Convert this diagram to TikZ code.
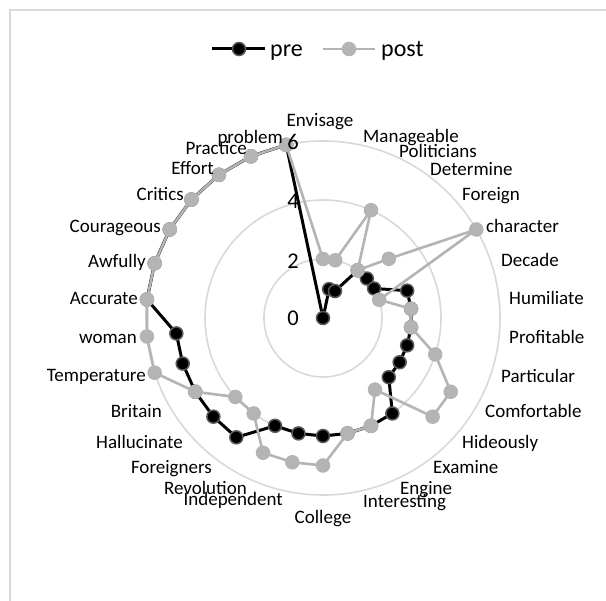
\documentclass[tikz,border=0pt]{standalone}
\usepackage{fontspec}
\setmainfont{Carlito}
\definecolor{preedge}{RGB}{89,89,89}
\definecolor{postgray}{RGB}{180,180,180}
\definecolor{gridgray}{RGB}{217,217,217}
\begin{document}
\begin{tikzpicture}[x=1pt,y=-1pt,
  catlab/.style={font=\fontsize{19}{21}\selectfont, inner sep=0pt},
  axlab/.style={font=\fontsize{22.5}{24}\selectfont, inner sep=0pt, anchor=base},
  leglab/.style={font=\fontsize{24}{26}\selectfont, inner sep=0pt, anchor=base west},
  premark/.style={circle, fill=black, draw=preedge, line width=1.5pt, minimum size=13pt, inner sep=0pt},
  postmark/.style={circle, fill=postgray, draw=postgray, line width=1pt, minimum size=13.5pt, inner sep=0pt},
  preline/.style={black, line width=3pt, line join=round},
  postline/.style={postgray, line width=2.6pt, line join=round},
  gridline/.style={gridgray, line width=1.6pt}
  ]
\useasboundingbox (0,0) rectangle (606,601);
\fill[white] (0,0) rectangle (606,601);
\coordinate (frameBL) at (10,601);
\coordinate (frameTL) at (10,10);
\coordinate (frameTR) at (606,10);
\draw[gridline, line width=2pt] (frameBL) -- (frameTL) -- (frameTR);
\coordinate (C) at (323,318);
\foreach \r in {2,4,6} \draw[gridline] (C) circle[radius=\r*29.5pt];
% data points
\foreach \v [count=\i from 0] in {0,1,1,2,2,2,3,3,3,3,3,3,4,4,4,4,4,4,5,5,5,5,5,6,6,6,6,6,6,6}
  \coordinate (pre\i) at ({323+\v*29.5*sin(\i*12)}, {318-\v*29.5*cos(\i*12)});
\foreach \v [count=\i from 0] in {2,2,4,2,3,6,2,3,3,4,5,5,3,4,4,5,5,5,4,4,5,6,6,6,6,6,6,6,6,6}
  \coordinate (post\i) at ({323+\v*29.5*sin(\i*12)}, {318-\v*29.5*cos(\i*12)});
% pre series
\draw[preline] (pre0) \foreach \i in {1,...,29} {-- (pre\i)} -- cycle;
\foreach \i in {0,...,29} \node[premark] (mpre\i) at (pre\i) {};
% post series
\draw[postline] (post0) \foreach \i in {1,...,29} {-- (post\i)} -- cycle;
\foreach \i in {0,...,29} \node[postmark] (mpost\i) at (post\i) {};
% axis labels
\node[axlab] (ax0) at (293,326) {0};
\node[axlab] (ax2) at (293,269) {2};
\node[axlab] (ax4) at (293,209) {4};
\node[axlab] (ax6) at (293,150) {6};
% category labels
\node[catlab, anchor=base] (l0) at (320,127) {Envisage};
\node[catlab, anchor=base west] (l1) at (363,143) {Manageable};
\node[catlab, anchor=base west] (l2) at (399,158) {Politicians};
\node[catlab, anchor=base west] (l3) at (430,176) {Determine};
\node[catlab, anchor=base west] (l4) at (462,201) {Foreign};
\node[catlab, anchor=base west] (l5) at (486,233) {character};
\node[catlab, anchor=base west] (l6) at (501,267) {Decade};
\node[catlab, anchor=base west] (l7) at (509,305) {Humiliate};
\node[catlab, anchor=base west] (l8) at (509,344) {Profitable};
\node[catlab, anchor=base west] (l9) at (501,383) {Particular};
\node[catlab, anchor=base west] (l10) at (485,418) {Comfortable};
\node[catlab, anchor=base west] (l11) at (462,449) {Hideously};
\node[catlab, anchor=base west] (l12) at (433,474) {Examine};
\node[catlab, anchor=base west] (l13) at (400,495) {Engine};
\node[catlab, anchor=base west] (l14) at (363,508) {Interesting};
\node[catlab, anchor=base] (l15) at (323,524) {College};
\node[catlab, anchor=base east] (l16) at (283,506) {Independent};
\node[catlab, anchor=base east] (l17) at (247,495) {Revolution};
\node[catlab, anchor=base east] (l18) at (212,474) {Foreigners};
\node[catlab, anchor=base east] (l19) at (183,449) {Hallucinate};
\node[catlab, anchor=base east] (l20) at (162,418) {Britain};
\node[catlab, anchor=base east] (l21) at (146,382) {Temperature};
\node[catlab, anchor=base east] (l22) at (137,344) {woman};
\node[catlab, anchor=base east] (l23) at (138,305) {Accurate};
\node[catlab, anchor=base east] (l24) at (146,268) {Awfully};
\node[catlab, anchor=base east] (l25) at (161,233) {Courageous};
\node[catlab, anchor=base east] (l26) at (184,201) {Critics};
\node[catlab, anchor=base east] (l27) at (214,175) {Effort};
\node[catlab, anchor=base east] (l28) at (247,155) {Practice};
\node[catlab, anchor=base east] (l29) at (283,144) {problem};
% legend
\coordinate (lgpreA) at (212,49);
\coordinate (lgpreB) at (265,49);
\coordinate (lgpostA) at (323,49);
\coordinate (lgpostB) at (375,49);
\draw[preline] (lgpreA) -- (lgpreB);
\node[premark] (lgpreM) at (239,49) {};
\node[leglab] (lgpreT) at (270,57) {pre};
\draw[postline] (lgpostA) -- (lgpostB);
\node[postmark] (lgpostM) at (349,49) {};
\node[leglab] (lgpostT) at (381,57) {post};
\end{tikzpicture}
\end{document}
